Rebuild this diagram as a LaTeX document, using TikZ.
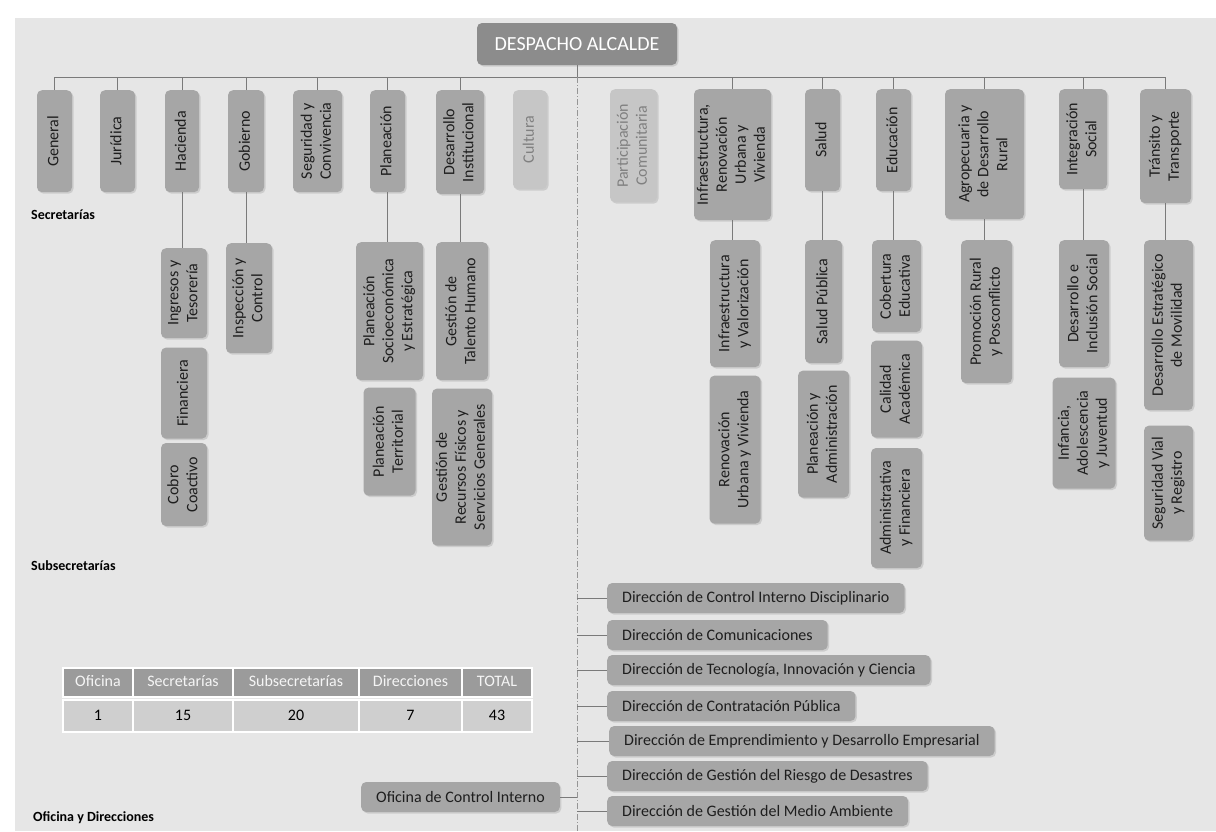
\documentclass[tikz,border=0pt]{standalone}
\usepackage{fontspec}
\setmainfont{Carlito}
\usepackage{graphicx}
\usetikzlibrary{positioning,shadows}

\definecolor{paper}{HTML}{E6E6E6}
\definecolor{boxgray}{HTML}{A6A6A6}
\definecolor{darkbox}{HTML}{8C8C8C}
\definecolor{fadebox}{HTML}{C6C6C6}
\definecolor{headgray}{HTML}{9B9B9B}
\definecolor{rowgray}{HTML}{CFCFCF}
\definecolor{linegray}{HTML}{7A7A7A}
\definecolor{inkgray}{HTML}{1E1E1E}

% rotated multi-line label for the vertical boxes
\newcommand{\vlab}[1]{\rotatebox{90}{\begin{tabular}{@{}c@{}}#1\end{tabular}}}

\begin{document}
\begin{tikzpicture}[x=1pt, y=-1pt,
  box/.style = {fill=boxgray, rounded corners=5pt, inner sep=0pt, text=inkgray,
    font=\fontsize{16}{19}\selectfont,
    drop shadow={shadow xshift=1.5pt, shadow yshift=-1.5pt, opacity=0.25}},
  faded/.style = {box, fill=fadebox, text=gray},
  dirbox/.style = {box, inner xsep=15pt, minimum height=30pt, anchor=west},
  thead/.style = {fill=headgray, draw=white, line width=1.5pt, text=white!92!gray,
    minimum height=29pt, inner sep=0pt, text height=11pt, text depth=3pt,
    font=\fontsize{16}{19}\selectfont},
  tcell/.style = {thead, fill=rowgray, text=black, minimum height=32pt},
  seclabel/.style = {font=\bfseries\fontsize{14}{16}\selectfont, anchor=west, inner sep=0pt},
  conn/.style = {draw=linegray, line width=0.8pt},
  divline/.style = {draw=linegray!80, line width=0.8pt, dash pattern=on 6pt off 2pt on 1pt off 2pt}]

\useasboundingbox (0,0) rectangle (1216,831);
\fill[paper] (15,18) rectangle (1216,831);

% despacho
\node[box, fill=darkbox, text=white, font=\fontsize{20}{22}\selectfont,
  minimum width=200, minimum height=42] (desp) at (577,44) {DESPACHO ALCALDE};

% secretarias
\node[box, minimum width=35, minimum height=102, anchor=north] (gen) at (54.5,90) {\vlab{General}};
\node[box, minimum width=35, minimum height=102, anchor=north] (jur) at (117.5,90) {\vlab{Jurídica}};
\node[box, minimum width=34, minimum height=102, anchor=north] (hac) at (182,90) {\vlab{Hacienda}};
\node[box, minimum width=36, minimum height=102, anchor=north] (gob) at (246,90) {\vlab{Gobierno}};
\node[box, minimum width=49, minimum height=102, anchor=north] (seg) at (317.5,90) {\vlab{Seguridad y\\Convivencia}};
\node[box, minimum width=35, minimum height=102, anchor=north] (pla) at (387.5,90) {\vlab{Planeación}};
\node[box, minimum width=48, minimum height=104, anchor=north] (des) at (460,90) {\vlab{Desarrollo\\Institucional}};
\node[faded, minimum width=34, minimum height=99, anchor=north] (cul) at (530,90) {\vlab{Cultura}};
\node[faded, minimum width=47, minimum height=113, anchor=north] (par) at (633.5,89) {\vlab{Participación\\Comunitaria}};
\node[box, minimum width=77, minimum height=131, anchor=north] (inf) at (732.5,89) {\vlab{Infraestructura,\\Renovación\\Urbana y\\Vivienda}};
\node[box, minimum width=35, minimum height=102, anchor=north] (sal) at (822.5,89) {\vlab{Salud}};
\node[box, minimum width=35, minimum height=102, anchor=north] (edu) at (893.5,89) {\vlab{Educación}};
\node[box, minimum width=79, minimum height=130, anchor=north] (agr) at (984.5,89) {\vlab{Agropecuaria y\\de Desarrollo\\Rural}};
\node[box, minimum width=48, minimum height=100, anchor=north] (isc) at (1083,89) {\vlab{Integración\\Social}};
\node[box, minimum width=51, minimum height=114, anchor=north] (tra) at (1165.5,89) {\vlab{Tránsito y\\Transporte}};

% subsecretarias
\node[box, minimum width=46, minimum height=90, anchor=north] (ing) at (184,248) {\vlab{Ingresos y\\Tesorería}};
\node[box, minimum width=46, minimum height=91, below=9pt of ing] (fin) {\vlab{Financiera}};
\node[box, minimum width=46, minimum height=83, below=4pt of fin] (cob) {\vlab{Cobro\\Coactivo}};
\node[box, minimum width=46, minimum height=110, anchor=north] (insp) at (249,243) {\vlab{Inspección y\\Control}};
\node[box, minimum width=67, minimum height=138, anchor=north] (pse) at (389.5,242) {\vlab{Planeación\\Socioeconómica\\y Estratégica}};
\node[box, minimum width=52, minimum height=108, below=7pt of pse] (pte) {\vlab{Planeación\\Territorial}};
\node[box, minimum width=52, minimum height=138, anchor=north] (gth) at (462,242) {\vlab{Gestión de\\Talento Humano}};
\node[box, minimum width=60, minimum height=157, below=8pt of gth] (grf) {\vlab{Gestión de\\Recursos Físicos y\\Servicios Generales}};

\node[box, minimum width=50, minimum height=127, anchor=north] (iva) at (735,240) {\vlab{Infraestructura\\y Valorización}};
\node[box, minimum width=51, minimum height=148, below=8pt of iva] (ruv) {\vlab{Renovación\\Urbana y Vivienda}};
\node[box, minimum width=37, minimum height=123, anchor=north] (spu) at (823.5,240) {\vlab{Salud Pública}};
\node[box, minimum width=51, minimum height=127, below=7pt of spu] (pad) {\vlab{Planeación y\\Administración}};
\node[box, minimum width=49, minimum height=92, anchor=north] (ced) at (896.5,240) {\vlab{Cobertura\\Educativa}};
\node[box, minimum width=51, minimum height=97, below=8pt of ced] (cac) {\vlab{Calidad\\Académica}};
\node[box, minimum width=51, minimum height=120, below=10pt of cac] (adf) {\vlab{Administrativa\\y Financiera}};
\node[box, minimum width=51, minimum height=143, anchor=north] (prp) at (986.5,240) {\vlab{Promoción Rural\\y Posconflicto}};
\node[box, minimum width=50, minimum height=127, anchor=north] (dis) at (1084,240) {\vlab{Desarrollo e\\Inclusión Social}};
\node[box, minimum width=63, minimum height=111, below=10pt of dis] (iaj) {\vlab{Infancia,\\Adolescencia\\y Juventud}};
\node[box, minimum width=49, minimum height=170, anchor=north] (dem) at (1168.5,240) {\vlab{Desarrollo Estratégico\\de Movilidad}};
\node[box, minimum width=49, minimum height=115, below=15pt of dem] (svr) {\vlab{Seguridad Vial\\y Registro}};

% section labels
\node[seclabel] (lsec) at (31,215) {Secretarías};
\node[seclabel] (lsub) at (31,566) {Subsecretarías};
\node[seclabel] (lofi) at (33,818) {Oficina y Direcciones};

% table
\node[thead, minimum width=70] (h1) at (98,682.5) {Oficina};
\node[thead, minimum width=100] (h2) at (183,682.5) {Secretarías};
\node[thead, minimum width=126] (h3) at (296,682.5) {Subsecretarías};
\node[thead, minimum width=103] (h4) at (410.5,682.5) {Direcciones};
\node[thead, minimum width=70] (h5) at (497,682.5) {TOTAL};
\node[tcell, minimum width=70] (c1) at (98,716) {1};
\node[tcell, minimum width=100] (c2) at (183,716) {15};
\node[tcell, minimum width=126] (c3) at (296,716) {20};
\node[tcell, minimum width=103] (c4) at (410.5,716) {7};
\node[tcell, minimum width=70] (c5) at (497,716) {43};

% oficina and direcciones
\node[box, inner xsep=15pt, minimum height=30] (oci) at (460.5,797) {Oficina de Control Interno};
\node[dirbox] (dir1) at (607,598) {Dirección de Control Interno Disciplinario};
\node[dirbox] (dir2) at (607,635) {Dirección de Comunicaciones};
\node[dirbox] (dir3) at (607,670) {Dirección de Tecnología, Innovación y Ciencia};
\node[dirbox] (dir4) at (607,706) {Dirección de Contratación Pública};
\node[dirbox] (dir5) at (609,741) {Dirección de Emprendimiento y Desarrollo Empresarial};
\node[dirbox] (dir6) at (607,776) {Dirección de Gestión del Riesgo de Desastres};
\node[dirbox] (dir7) at (607,811) {Dirección de Gestión del Medio Ambiente};

% bar and divider
\coordinate (divT) at (577,77);
\coordinate (divB) at (577,831);
\coordinate (barL) at (gen.north |- divT);
\coordinate (barR) at (tra.north |- divT);
\draw[conn] (barL) -- (barR);
\draw[conn] (desp) -- (divT);
\draw[divline] (divT) -- (divB);

\draw[conn] (gen.north) -- (gen.north |- divT);
\draw[conn] (jur.north) -- (jur.north |- divT);
\draw[conn] (hac.north) -- (hac.north |- divT);
\draw[conn] (gob.north) -- (gob.north |- divT);
\draw[conn] (seg.north) -- (seg.north |- divT);
\draw[conn] (pla.north) -- (pla.north |- divT);
\draw[conn] (des.north) -- (des.north |- divT);
\draw[conn] (inf.north) -- (inf.north |- divT);
\draw[conn] (sal.north) -- (sal.north |- divT);
\draw[conn] (edu.north) -- (edu.north |- divT);
\draw[conn] (agr.north) -- (agr.north |- divT);
\draw[conn] (isc.north) -- (isc.north |- divT);
\draw[conn] (tra.north) -- (tra.north |- divT);

\draw[conn] (hac.south) -- (hac.south |- ing.north);
\draw[conn] (gob.south) -- (gob.south |- insp.north);
\draw[conn] (pla.south) -- (pla.south |- pse.north);
\draw[conn] (des.south) -- (des.south |- gth.north);
\draw[conn] (inf.south) -- (inf.south |- iva.north);
\draw[conn] (sal.south) -- (sal.south |- spu.north);
\draw[conn] (edu.south) -- (edu.south |- ced.north);
\draw[conn] (agr.south) -- (agr.south |- prp.north);
\draw[conn] (isc.south) -- (isc.south |- dis.north);
\draw[conn] (tra.south) -- (tra.south |- dem.north);

\draw[conn] (oci.east) -- (oci.east -| divT);
\draw[conn] (dir1.west) -- (dir1.west -| divT);
\draw[conn] (dir2.west) -- (dir2.west -| divT);
\draw[conn] (dir3.west) -- (dir3.west -| divT);
\draw[conn] (dir4.west) -- (dir4.west -| divT);
\draw[conn] (dir5.west) -- (dir5.west -| divT);
\draw[conn] (dir6.west) -- (dir6.west -| divT);
\draw[conn] (dir7.west) -- (dir7.west -| divT);
\end{tikzpicture}
\end{document}
